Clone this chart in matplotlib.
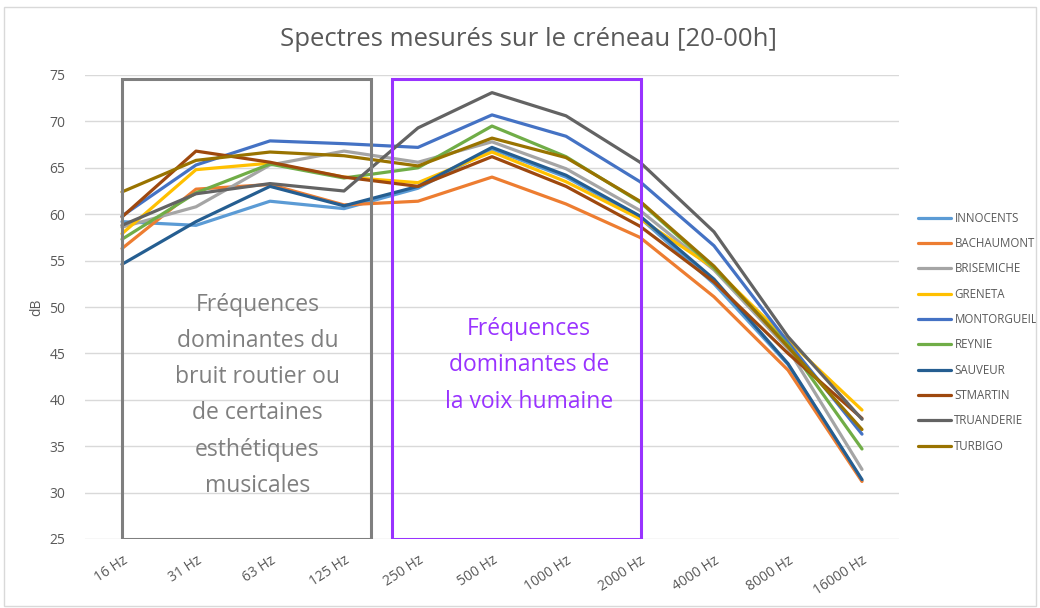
import matplotlib.pyplot as plt
from matplotlib.patches import Rectangle

plt.rcParams['font.family'] = ['Open Sans', 'DejaVu Sans']

freqs = ['16 Hz', '31 Hz', '63 Hz', '125 Hz', '250 Hz', '500 Hz', '1000 Hz',
         '2000 Hz', '4000 Hz', '8000 Hz', '16000 Hz']

innocents   = [59.2, 58.8, 61.4, 60.6, 62.8, 67.0, 64.0, 59.6, 52.5, 43.8, 31.3]
bachaumont  = [56.3, 62.7, 63.2, 61.0, 61.4, 64.0, 61.1, 57.5, 51.1, 43.2, 31.2]
brisemiche  = [58.6, 60.8, 65.3, 66.8, 65.6, 67.8, 64.9, 60.4, 54.0, 45.5, 32.5]
greneta     = [57.9, 64.8, 65.5, 64.0, 63.4, 66.7, 63.5, 59.5, 54.2, 46.4, 38.9]
montorgueil = [59.8, 65.3, 67.9, 67.6, 67.2, 70.7, 68.4, 63.5, 56.6, 46.2, 36.3]
reynie      = [57.3, 62.3, 65.4, 63.9, 65.0, 69.5, 66.2, 61.3, 54.2, 45.9, 34.7]
sauveur     = [54.6, 59.2, 63.0, 60.9, 63.0, 67.2, 64.2, 59.8, 53.0, 43.9, 31.4]
stmartin    = [59.7, 66.8, 65.6, 64.0, 63.0, 66.2, 63.0, 58.7, 52.7, 45.0, 38.0]
truanderie  = [58.8, 62.2, 63.3, 62.5, 69.3, 73.1, 70.6, 65.6, 58.1, 46.8, 37.9]
turbigo     = [62.4, 65.8, 66.7, 66.3, 65.2, 68.2, 66.1, 61.4, 54.4, 45.7, 36.8]

series = [
    ('INNOCENTS', innocents, '#5B9BD5'),
    ('BACHAUMONT', bachaumont, '#ED7D31'),
    ('BRISEMICHE', brisemiche, '#A5A5A5'),
    ('GRENETA', greneta, '#FFC000'),
    ('MONTORGUEIL', montorgueil, '#4472C4'),
    ('REYNIE', reynie, '#70AD47'),
    ('SAUVEUR', sauveur, '#255E91'),
    ('STMARTIN', stmartin, '#9E480E'),
    ('TRUANDERIE', truanderie, '#636363'),
    ('TURBIGO', turbigo, '#997300'),
]

fig = plt.figure(figsize=(10.4, 6.08), dpi=100)
ax = fig.add_axes([85 / 1040, 69 / 608, 814 / 1040, 464 / 608])

x = list(range(len(freqs)))
for name, vals, col in series:
    ax.plot(x, vals, color=col, lw=2.3, label=name, solid_capstyle='round')

ax.set_xlim(-0.5, len(freqs) - 0.5)
ax.set_ylim(25, 75)
ax.set_yticks(range(25, 80, 5))
ax.set_xticks(x)
ax.set_xticklabels(freqs, rotation=33, ha='right', rotation_mode='anchor')
ax.tick_params(axis='both', length=0, colors='#595959', labelsize=10)
ax.tick_params(axis='x', pad=10)
ax.tick_params(axis='y', pad=14)
ax.grid(axis='y', color='#D9D9D9', lw=1)
ax.set_axisbelow(True)
for s in ax.spines.values():
    s.set_visible(False)
ax.set_ylabel('dB', color='#595959', fontsize=10, labelpad=4)

# zones annotées
ax.add_patch(Rectangle((0, 25), 3.36, 49.6, fill=False, ec='#7F7F7F', lw=2.2, zorder=5))
ax.add_patch(Rectangle((3.65, 25), 3.36, 49.6, fill=False, ec='#9933FF', lw=2.2, zorder=5))
ax.text(1.83, 40.5, 'Fréquences\ndominantes du\nbruit routier ou\nde certaines\nesthétiques\nmusicales',
        ha='center', va='center', color='#7F7F7F', fontsize=16.5, linespacing=1.68, zorder=6)
ax.text(5.5, 43.7, 'Fréquences\ndominantes de\nla voix humaine',
        ha='center', va='center', color='#9933FF', fontsize=16.5, linespacing=1.68, zorder=6)

fig.suptitle('Spectres mesurés sur le créneau [20-00h]', x=0.508, y=0.955,
             color='#595959', fontsize=18.5)

leg = ax.legend(loc='center left', bbox_to_anchor=(1.01, 0.446), frameon=False,
                fontsize=8.3, handlelength=2.9, labelspacing=1.07, handletextpad=0.3)
for t in leg.get_texts():
    t.set_color('#595959')

fig.add_artist(Rectangle((0.004, 0.004), 0.992, 0.985, transform=fig.transFigure,
                         fill=False, ec='#D9D9D9', lw=1))

fig.savefig('out.png', dpi=100)
